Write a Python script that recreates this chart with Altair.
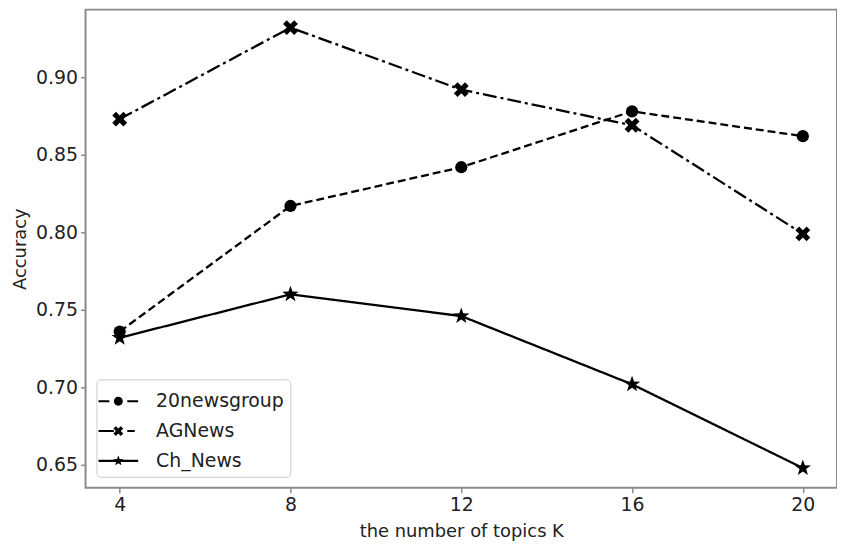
import math
import altair as alt
import pandas as pd

topics = [4, 8, 12, 16, 20]
news20 = [0.736, 0.817, 0.842, 0.878, 0.862]
agnews = [0.873, 0.932, 0.892, 0.869, 0.799]
chnews = [0.732, 0.760, 0.746, 0.702, 0.648]
series_names = ["20newsgroup", "AGNews", "Ch_News"]
y_ticks = [0.65, 0.70, 0.75, 0.80, 0.85, 0.90]

rows = []
for name, vals in zip(series_names, [news20, agnews, chnews]):
    for k, v in zip(topics, vals):
        rows.append({"K": k, "acc": v, "series": name})
df = pd.DataFrame(rows)


def star_path(r_out, r_in):
    pts = []
    for i in range(10):
        r = r_out if i % 2 == 0 else r_in
        a = -math.pi / 2 + i * math.pi / 5
        pts.append((r * math.cos(a), r * math.sin(a)))
    return "M" + "L".join(f"{x:.3f},{y:.3f}" for x, y in pts) + "Z"


def x_path(s):
    p = [(-1, -0.5), (-0.5, -1), (0, -0.5), (0.5, -1), (1, -0.5), (0.5, 0),
         (1, 0.5), (0.5, 1), (0, 0.5), (-0.5, 1), (-1, 0.5), (-0.5, 0)]
    return "M" + "L".join(f"{x*s:.3f},{y*s:.3f}" for x, y in p) + "Z"


def circle_path(r):
    return f"M{-r},0A{r},{r} 0 1,0 {r},0A{r},{r} 0 1,0 {-r},0Z"


def seg(a, b, h=0.07):
    return f"M{a},{-h}H{b}V{h}H{a}Z"


marker_paths = ["circle", x_path(1.0), star_path(1.0, 0.4)]
W = 1.33
legend_paths = [
    seg(-W, -0.6) + seg(0.6, W) + circle_path(0.3),
    seg(-W, -0.3) + seg(0.6, 1.1) + x_path(0.33),
    seg(-W, W) + star_path(0.36, 0.15),
]

xs = alt.Scale(domain=[3.2, 20.8], nice=False, zero=False)
ys = alt.Scale(domain=[0.6353, 0.9436], nice=False, zero=False)

xenc = alt.X("K:Q", scale=xs, axis=alt.Axis(values=topics, title="the number of topics K", format="d"))
yenc = alt.Y("acc:Q", scale=ys, axis=alt.Axis(values=y_ticks, title="Accuracy", format=".2f"))

base = alt.Chart(df).encode(x=xenc, y=yenc)

lines = base.mark_line(color="black", strokeWidth=2.3).encode(
    strokeDash=alt.StrokeDash("series:N",
                              scale=alt.Scale(domain=series_names, range=[[8, 4], [14, 4, 3, 4], [1, 0]]),
                              legend=None),
    detail="series:N",
)

points = base.mark_point(filled=True, color="black", opacity=1).encode(
    shape=alt.Shape("series:N", scale=alt.Scale(domain=series_names, range=marker_paths), legend=None),
    size=alt.Size("series:N", scale=alt.Scale(domain=series_names, range=[150, 300, 420]), legend=None),
)

legend_layer = base.transform_calculate(leg="datum.series").transform_filter("false").mark_point(
    filled=True, color="black", opacity=1
).encode(
    shape=alt.Shape("leg:N", scale=alt.Scale(domain=series_names, range=legend_paths),
                    legend=alt.Legend(
                        title=None, orient="bottom-left", offset=11, padding=6,
                        symbolSize=900, symbolFillColor="black", symbolOpacity=1,
                        labelFontSize=19, labelFont="DejaVu Sans", labelColor="#222222",
                        labelOffset=22, rowPadding=4,
                        strokeColor="#cccccc", fillColor="white", cornerRadius=4,
                    )),
)

chart = alt.layer(lines, points, legend_layer).resolve_scale(shape="independent").properties(
    width=756, height=481,
    autosize=alt.AutoSizeParams(type="none"),
    padding={"left": 78, "top": 0, "right": 0, "bottom": 60},
).configure_view(
    stroke="#8a8a8a", strokeWidth=2
).configure_axis(
    domain=False, grid=False, tickColor="#8a8a8a", tickSize=5, tickWidth=1.5,
    labelFont="DejaVu Sans", labelFontSize=19, labelColor="#222222", labelPadding=3,
    titleFont="DejaVu Sans", titleFontSize=18, titleColor="#222222", titleFontWeight="normal",
).configure_axisX(titlePadding=8).configure_axisY(titlePadding=6)

chart.save("out.html", embed_options={"renderer": "svg", "actions": False})
